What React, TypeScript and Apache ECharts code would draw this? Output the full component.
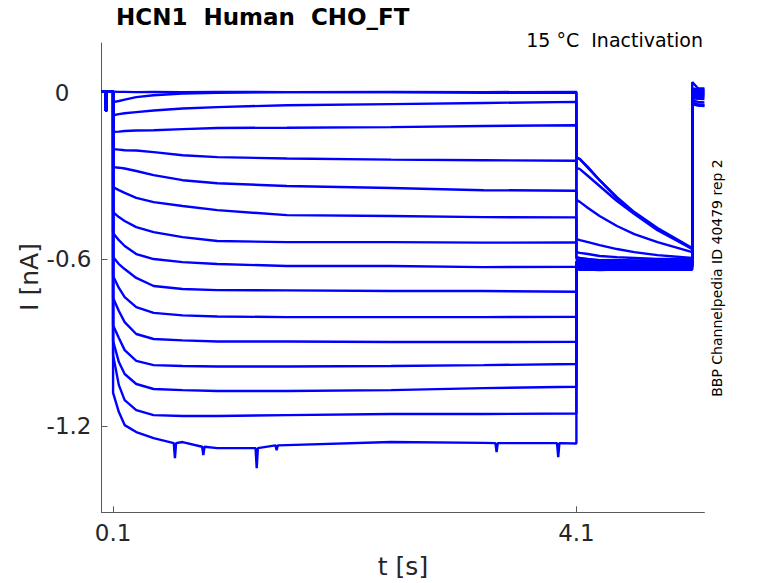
import React, { useEffect, useRef } from "react";
import * as echarts from "echarts";

// ---- data ----
const holdingCurrent = 0.004; // nA, before the step
const testPulseTimes = [0.034, 0.046]; // s
const testPulseCurrent = -0.063; // nA

const stepTimes = [0.1, 0.15, 0.2, 0.3, 0.45, 0.7, 1.0, 1.6, 2.5, 3.3, 4.1];
const stepCurrents: number[][] = [
  [0.004, 0.003, 0.003, 0.002, 0.003, 0.002, 0.003, 0.002, 0.003, 0.002, 0.003],
  [-0.034, -0.03, -0.025, -0.016, -0.009, -0.003, 0.0, 0.002, 0.002, 0.0, 0.0],
  [-0.081, -0.077, -0.074, -0.07, -0.064, -0.057, -0.052, -0.045, -0.041, -0.037, -0.033],
  [-0.141, -0.14, -0.138, -0.136, -0.135, -0.131, -0.127, -0.126, -0.124, -0.12, -0.117],
  [-0.203, -0.205, -0.207, -0.208, -0.214, -0.225, -0.232, -0.237, -0.241, -0.243, -0.245],
  [-0.268, -0.27, -0.273, -0.282, -0.297, -0.315, -0.326, -0.336, -0.343, -0.351, -0.353],
  [-0.34, -0.351, -0.361, -0.379, -0.394, -0.408, -0.423, -0.441, -0.444, -0.448, -0.449],
  [-0.43, -0.448, -0.462, -0.484, -0.502, -0.52, -0.534, -0.538, -0.538, -0.54, -0.539],
  [-0.505, -0.531, -0.552, -0.581, -0.599, -0.61, -0.617, -0.624, -0.624, -0.628, -0.627],
  [-0.592, -0.617, -0.635, -0.667, -0.696, -0.707, -0.711, -0.712, -0.714, -0.714, -0.717],
  [-0.66, -0.703, -0.736, -0.772, -0.793, -0.802, -0.806, -0.808, -0.808, -0.808, -0.807],
  [-0.739, -0.786, -0.826, -0.869, -0.887, -0.892, -0.896, -0.896, -0.898, -0.898, -0.897],
  [-0.837, -0.883, -0.927, -0.966, -0.981, -0.984, -0.986, -0.986, -0.984, -0.981, -0.977],
  [-0.894, -0.97, -1.013, -1.049, -1.067, -1.071, -1.074, -1.074, -1.071, -1.064, -1.059],
  [-0.945, -1.053, -1.107, -1.143, -1.161, -1.164, -1.164, -1.161, -1.157, -1.157, -1.155],
  [-1.081, -1.15, -1.197, -1.222, -1.244, -1.258, -1.28, -1.269, -1.258, -1.261, -1.263],
];

// noisy dips of the most negative trace
const lastTraceDips: [number, number][] = [
  [0.624, -1.262], [0.634, -1.316], [0.644, -1.262],
  [0.869, -1.275], [0.879, -1.305], [0.889, -1.275],
  [1.33, -1.28], [1.34, -1.352], [1.35, -1.28],
  [1.502, -1.27], [1.512, -1.287], [1.522, -1.27],
  [3.401, -1.262], [3.411, -1.294], [3.421, -1.262],
  [3.933, -1.262], [3.943, -1.312], [3.953, -1.262],
];

const tailTimes = [4.1, 4.13, 4.2, 4.3, 4.45, 4.6, 4.8, 5.1];
const tailCurrents: number[][] = [
  [-0.235, -0.239, -0.271, -0.315, -0.376, -0.43, -0.487, -0.559],
  [-0.232, -0.239, -0.268, -0.315, -0.38, -0.433, -0.491, -0.563],
  [-0.271, -0.275, -0.3, -0.336, -0.39, -0.437, -0.495, -0.563],
  [-0.386, -0.393, -0.415, -0.444, -0.48, -0.509, -0.538, -0.574],
  [-0.527, -0.531, -0.538, -0.549, -0.563, -0.574, -0.585, -0.595],
  [-0.574, -0.577, -0.581, -0.588, -0.592, -0.595, -0.599, -0.599],
  [-0.592, -0.595, -0.599, -0.603, -0.603, -0.606, -0.606, -0.606],
  [-0.599, -0.602, -0.601, -0.603, -0.602, -0.604, -0.603, -0.604],
  [-0.606, -0.608, -0.607, -0.609, -0.608, -0.61, -0.609, -0.61],
  [-0.61, -0.612, -0.611, -0.613, -0.612, -0.613, -0.612, -0.613],
  [-0.613, -0.616, -0.615, -0.616, -0.615, -0.617, -0.616, -0.617],
  [-0.617, -0.619, -0.618, -0.62, -0.619, -0.62, -0.619, -0.62],
  [-0.621, -0.623, -0.622, -0.624, -0.622, -0.624, -0.623, -0.624],
  [-0.624, -0.627, -0.626, -0.628, -0.626, -0.627, -0.626, -0.627],
  [-0.628, -0.631, -0.63, -0.632, -0.63, -0.631, -0.63, -0.631],
  [-0.635, -0.638, -0.637, -0.639, -0.637, -0.638, -0.637, -0.638],
];

const endTimes = [5.1, 5.15, 5.205];
const endCurrents: number[][] = [
  [-0.04, -0.045, -0.047],
  [-0.042, -0.046, -0.048],
  [-0.036, -0.041, -0.043],
  [-0.028, -0.033, -0.035],
  [-0.02, -0.022, -0.023],
  [-0.014, -0.016, -0.017],
  [-0.01, -0.012, -0.013],
  [-0.006, -0.008, -0.009],
  [-0.003, -0.005, -0.006],
  [0.0, -0.002, -0.003],
  [0.003, 0.001, 0.0],
  [0.006, 0.004, 0.003],
  [0.009, 0.007, 0.006],
  [0.012, 0.01, 0.009],
  [0.015, 0.013, 0.012],
  [0.038, 0.016, 0.015],
];

const xTicks = [0.1, 4.1];
const yTicks = [-1.2, -0.6, 0];

const titleText = "HCN1  Human  CHO_FT";
const conditionText = "15 \u00B0C  Inactivation";
const sourceText = "BBP Channelpedia ID 40479 rep 2";
const xName = "t [s]";
const yName = "I [nA]";

// ---- build option ----
const FONT = "DejaVu Sans";
const TEXT = "#262626";
const AXIS = "#5a5a5a";

function buildTrace(i: number): [number, number][] {
  const pts: [number, number][] = [
    [0, holdingCurrent],
    [testPulseTimes[0], holdingCurrent],
    [testPulseTimes[0], testPulseCurrent],
    [testPulseTimes[1], testPulseCurrent],
    [testPulseTimes[1], holdingCurrent],
    [stepTimes[0], holdingCurrent],
  ];
  const main: [number, number][] = stepTimes.map((t, k) => [t, stepCurrents[i][k]]);
  if (i === stepCurrents.length - 1) {
    main.push(...lastTraceDips);
    main.sort((a, b) => a[0] - b[0]);
  }
  pts.push(...main);
  tailTimes.forEach((t, k) => pts.push([t, tailCurrents[i][k]]));
  endTimes.forEach((t, k) => pts.push([t, endCurrents[i][k]]));
  return pts;
}

const series = stepCurrents.map((_, i) => ({
  type: "line" as const,
  data: buildTrace(i),
  showSymbol: false,
  symbol: "none",
  silent: true,
  lineStyle: { color: "#0000ff", width: 2.4 },
  z: 2,
}));

const option: any = {
  animation: false,
  backgroundColor: "#ffffff",
  grid: { left: 101.5, right: 73.6, top: 43, bottom: 70.7 },
  xAxis: {
    type: "value",
    min: 0,
    max: 5.205,
    axisLine: { show: true, onZero: false, lineStyle: { color: AXIS, width: 1 } },
    axisTick: { show: true, inside: true, length: 6, customValues: xTicks, lineStyle: { color: AXIS } },
    axisLabel: {
      customValues: xTicks,
      formatter: (v: number) => v.toFixed(1),
      fontSize: 23,
      fontFamily: FONT,
      color: TEXT,
      margin: 9,
    },
    splitLine: { show: false },
  },
  yAxis: {
    type: "value",
    min: -1.511,
    max: 0.179,
    axisLine: { show: true, onZero: false, lineStyle: { color: AXIS, width: 1 } },
    axisTick: { show: true, inside: true, length: 6, customValues: yTicks, lineStyle: { color: AXIS } },
    axisLabel: {
      customValues: yTicks,
      formatter: (v: number) => (Math.abs(v) < 1e-9 ? "{z|0}" : v.toFixed(1)),
      fontSize: 23,
      fontFamily: FONT,
      color: TEXT,
      margin: 10,
      rich: { z: { fontSize: 23, fontFamily: FONT, color: TEXT, padding: [0, 22, 0, 0] } },
    },
    splitLine: { show: false },
  },
  series,
  graphic: [
    {
      type: "text",
      left: 116,
      top: 5,
      style: { text: titleText, font: `bold 23px "${FONT}"`, fill: "#000000" },
    },
    {
      type: "text",
      x: 703,
      y: 40,
      style: { text: conditionText, font: `19px "${FONT}"`, fill: "#000000", align: "right", verticalAlign: "middle" },
    },
    {
      type: "text",
      x: 716.5,
      y: 278,
      rotation: Math.PI / 2,
      style: { text: sourceText, font: `14px "${FONT}"`, fill: "#000000", align: "center", verticalAlign: "middle" },
    },
    {
      type: "text",
      x: 403,
      y: 566,
      style: { text: xName, font: `25px "${FONT}"`, fill: TEXT, align: "center", verticalAlign: "middle" },
    },
    {
      type: "text",
      x: 29,
      y: 277,
      rotation: Math.PI / 2,
      style: { text: yName, font: `25px "${FONT}"`, fill: TEXT, align: "center", verticalAlign: "middle" },
    },
  ],
};

export default function App() {
  const ref = useRef<HTMLDivElement>(null);
  useEffect(() => {
    if (!ref.current) return;
    const chart = echarts.init(ref.current, null, { renderer: "svg" });
    chart.setOption(option);
    return () => chart.dispose();
  }, []);
  return (
    <div
      ref={ref}
      style={{ position: "absolute", left: 0, top: 0, width: 778, height: 583, background: "#fff" }}
    />
  );
}
